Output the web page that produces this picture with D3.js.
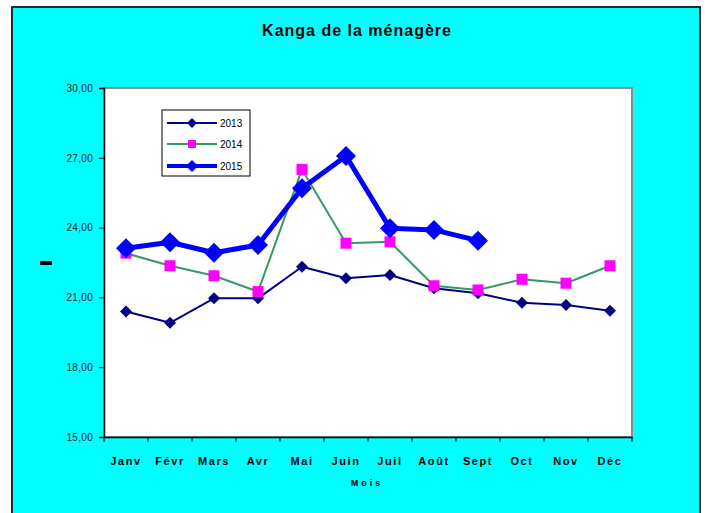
<!DOCTYPE html>
<html><head><meta charset="utf-8">
<script src="https://cdn.jsdelivr.net/npm/d3@7"></script>
<style>body{margin:0;background:#fff}svg{display:block;font-family:Arial,"Liberation Sans",sans-serif}</style>
</head><body><svg id="c" width="705" height="513"></svg>
<script>
const months = ["Janv","Févr","Mars","Avr","Mai","Juin","Juil","Août","Sept","Oct","Nov","Déc"];
const s2013 = [20.39,19.91,20.96,20.96,22.32,21.82,21.96,21.39,21.18,20.77,20.67,20.43];
const s2014 = [22.9,22.36,21.93,21.25,26.5,23.33,23.39,21.5,21.32,21.78,21.61,22.36];
const s2015 = [23.11,23.37,22.92,23.25,25.69,27.08,23.97,23.9,23.44];
const yTicks = [15,18,21,24,27,30];
const title = "Kanga de la ménagère";
const xTitle = "Mois";

const svg = d3.select("#c");
svg.append("rect").attr("x",12).attr("y",7).attr("width",688).attr("height",520)
  .attr("fill","#00ffff").attr("stroke","#1e2e2e").attr("stroke-width",2);

const L=104,R=632,T=88,B=437;
const x = d3.scaleBand().domain(months).range([L,R]);
const y = d3.scaleLinear().domain([15,30]).range([B,T]);
svg.append("rect").attr("x",L).attr("y",T).attr("width",R-L).attr("height",B-T)
  .attr("fill","#fff").attr("stroke","#8c8c8c").attr("stroke-width",2);

// y axis
const fmt = v => d3.format(".2f")(v).replace(".",",");
const ya = svg.append("g").attr("transform",`translate(${L},0)`)
  .call(d3.axisLeft(y).tickValues(yTicks).tickFormat(fmt).tickSize(5).tickPadding(6));
ya.select(".domain").attr("stroke","#000").attr("stroke-width",1.5);
ya.selectAll("line").attr("stroke","#000");
ya.selectAll("text").attr("font-size",10).attr("fill","#1a1a1a").attr("font-family","Arial")
  .attr("letter-spacing","0.3px");

// x axis
const xa = svg.append("g").attr("transform",`translate(0,${B})`)
  .call(d3.axisBottom(x).tickSize(0).tickPadding(20));
xa.select(".domain").attr("stroke","#000").attr("stroke-width",1.5);
xa.selectAll("text").attr("font-size",11).attr("font-weight","bold").attr("fill","#000")
  .attr("letter-spacing","1.6px");
// boundary ticks
svg.append("g").selectAll("line").data(d3.range(months.length+1)).join("line")
  .attr("x1",i=>L+i*x.step()).attr("x2",i=>L+i*x.step())
  .attr("y1",B).attr("y2",B+5).attr("stroke","#000");

svg.append("text").attr("x",357).attr("y",36).attr("text-anchor","middle")
  .attr("font-size",16).attr("font-weight","bold").attr("letter-spacing","1px").text(title);
svg.append("text").attr("x",367).attr("y",486).attr("text-anchor","middle")
  .attr("font-size",9).attr("font-weight","bold").attr("letter-spacing","3px").text(xTitle);
svg.append("rect").attr("x",40).attr("y",261).attr("width",12).attr("height",4).attr("fill","#000");

const cx = i => x(months[i]) + x.bandwidth()/2;
const line = d3.line().x((d,i)=>cx(i)).y(d=>y(d));
const diamond = (s)=>`M0,${-s}L${s},0L0,${s}L${-s},0Z`;

const series = [
  {name:"2013",data:s2013,color:"#000080",w:2,marker:"diamond",ms:6,mc:"#000080"},
  {name:"2014",data:s2014,color:"#339966",w:2,marker:"square",ms:5.5,mc:"#ff00ff"},
  {name:"2015",data:s2015,color:"#0000ff",w:5,marker:"diamond",ms:10,mc:"#0000ff"}
];
const g = svg.append("g");
series.forEach(s=>{
  g.append("path").attr("d",line(s.data)).attr("fill","none").attr("stroke",s.color)
    .attr("stroke-width",s.w).attr("stroke-linejoin","round");
});
series.forEach(s=>{
  s.data.forEach((v,i)=>{
    if(s.marker==="diamond") g.append("path").attr("d",diamond(s.ms))
      .attr("transform",`translate(${cx(i)},${y(v)})`).attr("fill",s.mc);
    else g.append("rect").attr("x",cx(i)-s.ms).attr("y",y(v)-s.ms)
      .attr("width",2*s.ms).attr("height",2*s.ms).attr("fill",s.mc);
  });
});

// legend
const lg = svg.append("g");
lg.append("rect").attr("x",162).attr("y",110).attr("width",88).attr("height",66)
  .attr("fill","#fff").attr("stroke","#000").attr("stroke-width",1);
const ly=[123,144,166];
const lms=[5,5,6];
series.forEach((s,i)=>{
  lg.append("line").attr("x1",167).attr("x2",217).attr("y1",ly[i]).attr("y2",ly[i])
    .attr("stroke",s.color).attr("stroke-width",s.w===5?4:2);
  if(s.marker==="diamond") lg.append("path").attr("d",diamond(lms[i]))
    .attr("transform",`translate(192,${ly[i]})`).attr("fill",s.mc);
  else lg.append("rect").attr("x",188).attr("y",ly[i]-4).attr("width",8).attr("height",8).attr("fill",s.mc);
  lg.append("text").attr("x",220).attr("y",ly[i]+3.5).attr("font-size",10).attr("fill","#000").text(s.name);
});
</script></body></html>
